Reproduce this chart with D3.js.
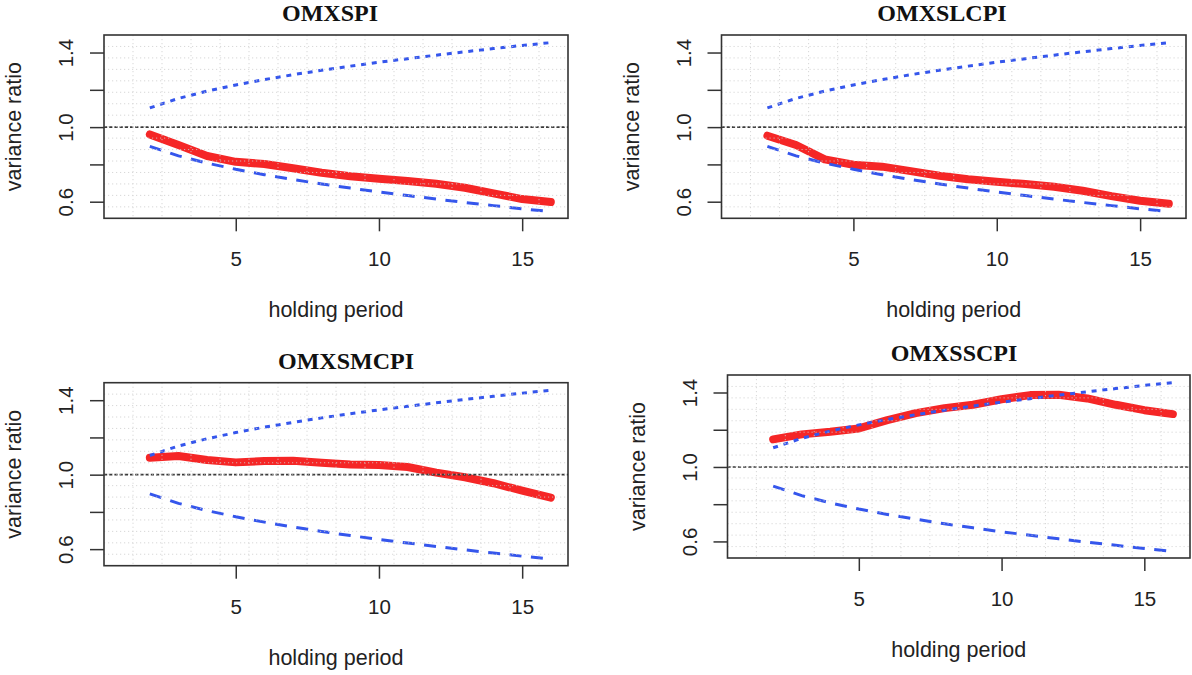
<!DOCTYPE html>
<html>
<head>
<meta charset="utf-8">
<title>Variance ratio by holding period</title>
<script src="https://cdn.jsdelivr.net/npm/d3@7"></script>
<style>
    body { margin: 0; background: #fff; }
    svg { display: block; }
    .panel-title { font-family: "Liberation Serif", "Times New Roman", serif; font-weight: bold; font-size: 24px; fill: #111; }
    .axis-label { font-family: "Liberation Sans", Arial, sans-serif; font-size: 21.5px; fill: #222; }
    .tick text { font-family: "Liberation Sans", Arial, sans-serif; font-size: 20.5px; fill: #222; }
    .tick line { stroke: #333; stroke-width: 1.5; }
</style>
</head>
<body>
<div id="chart"></div>
<script>
// ---- data ----
const holdingPeriods = [2, 3, 4, 5, 6, 7, 8, 9, 10, 11, 12, 13, 14, 15, 16];

// confidence band, same in every panel
const upperBound = [1.103, 1.154, 1.193, 1.226, 1.255, 1.281, 1.305, 1.327, 1.348, 1.367, 1.386, 1.404, 1.421, 1.438, 1.453];
const lowerBound = [0.897, 0.846, 0.807, 0.774, 0.745, 0.719, 0.695, 0.673, 0.652, 0.633, 0.614, 0.596, 0.579, 0.562, 0.547];

// variance ratio per index
const vrOMXSPI   = [0.961, 0.904, 0.845, 0.814, 0.802, 0.779, 0.755, 0.737, 0.723, 0.711, 0.696, 0.675, 0.645, 0.614, 0.598];
const vrOMXSLCPI = [0.954, 0.904, 0.827, 0.798, 0.788, 0.764, 0.739, 0.720, 0.707, 0.695, 0.680, 0.659, 0.630, 0.605, 0.589];
const vrOMXSMCPI = [1.091, 1.100, 1.079, 1.066, 1.073, 1.075, 1.064, 1.055, 1.052, 1.041, 1.011, 0.986, 0.954, 0.914, 0.877];
const vrOMXSSCPI = [1.148, 1.175, 1.189, 1.207, 1.252, 1.289, 1.316, 1.334, 1.364, 1.386, 1.388, 1.368, 1.334, 1.305, 1.284];

const panelTitles = ["OMXSPI", "OMXSLCPI", "OMXSMCPI", "OMXSSCPI"];
const panelSeries = [vrOMXSPI, vrOMXSLCPI, vrOMXSMCPI, vrOMXSSCPI];

const xTicks = [5, 10, 15];
const yTicks = [0.6, 0.8, 1.0, 1.2, 1.4];
const yTickLabels = ["0.6", "", "1.0", "", "1.4"];
const xLabel = "holding period";
const yLabel = "variance ratio";

// ---- layout ----
const width = 1192, height = 675;
const xDomain = [0.4, 16.6];
const yDomain = [0.511, 1.494];

const panelBoxes = [
    { left: 104,   right: 568,  top: 35,    bottom: 218.3, titleX: 330 },
    { left: 721.5, right: 1186, top: 35,    bottom: 218.3, titleX: 942 },
    { left: 104,   right: 568,  top: 382.7, bottom: 565.7, titleX: 346 },
    { left: 727.5, right: 1190, top: 375,   bottom: 558,   titleX: 954 }
];

const svg = d3.select('#chart')
    .append('svg')
    .attr('width', width)
    .attr('height', height);

/**
 * Draw one variance-ratio panel.
 */
function drawPanel(i) {
    const box = panelBoxes[i];
    const series = panelSeries[i];

    const x = d3.scaleLinear().domain(xDomain).range([box.left, box.right]);
    const y = d3.scaleLinear().domain(yDomain).range([box.bottom, box.top]);

    const g = svg.append('g').attr('class', 'panel');

    const line = d3.line()
        .x((d, k) => x(holdingPeriods[k]))
        .y(d => y(d));

    // variance ratio (thick red)
    g.append('path')
        .datum(series)
        .attr('d', line)
        .attr('fill', 'none')
        .attr('stroke', '#f52626')
        .attr('stroke-width', 8)
        .attr('stroke-linecap', 'round')
        .attr('stroke-linejoin', 'round');

    // upper band (dotted blue)
    g.append('path')
        .datum(upperBound)
        .attr('d', line)
        .attr('fill', 'none')
        .attr('stroke', '#3556ec')
        .attr('stroke-width', 3)
        .attr('stroke-dasharray', '5,5.8');

    // lower band (dashed blue)
    g.append('path')
        .datum(lowerBound)
        .attr('d', line)
        .attr('fill', 'none')
        .attr('stroke', '#3556ec')
        .attr('stroke-width', 3)
        .attr('stroke-dasharray', '12,9.5');

    // reference line at 1
    g.append('line')
        .attr('x1', box.left).attr('x2', box.right)
        .attr('y1', y(1)).attr('y2', y(1))
        .attr('stroke', '#3a3a3a')
        .attr('stroke-width', 1.6)
        .attr('stroke-dasharray', '3.2,2');

    // faint dotted grid, 16 x 16 cells, drawn over the lines like R's grid()
    const gw = (box.right - box.left) / 16;
    const gh = (box.bottom - box.top) / 16;
    const grid = g.append('g')
        .attr('stroke', '#cfcfcf')
        .attr('stroke-width', 1)
        .attr('stroke-dasharray', '1.2,2.8')
        .attr('opacity', 0.8);
    d3.range(1, 16).forEach(k => {
        grid.append('line')
            .attr('x1', box.left + k * gw).attr('x2', box.left + k * gw)
            .attr('y1', box.top).attr('y2', box.bottom);
        grid.append('line')
            .attr('x1', box.left).attr('x2', box.right)
            .attr('y1', box.top + k * gh).attr('y2', box.top + k * gh);
    });

    // plot box
    g.append('rect')
        .attr('x', box.left).attr('y', box.top)
        .attr('width', box.right - box.left)
        .attr('height', box.bottom - box.top)
        .attr('fill', 'none')
        .attr('stroke', '#333')
        .attr('stroke-width', 1.6);

    // x axis
    const xAxis = g.append('g')
        .attr('transform', `translate(0,${box.bottom})`)
        .call(d3.axisBottom(x).tickValues(xTicks).tickSize(13).tickFormat(d3.format('d')));
    xAxis.select('.domain').remove();
    xAxis.selectAll('.tick text')
        .attr('y', 48)
        .attr('dy', 0);

    // y axis, labels turned parallel to the axis
    const yAxis = g.append('g')
        .attr('transform', `translate(${box.left},0)`)
        .call(d3.axisLeft(y).tickValues(yTicks).tickSize(14)
            .tickFormat((d, k) => yTickLabels[k]));
    yAxis.select('.domain').remove();
    yAxis.selectAll('.tick text')
        .attr('x', 0)
        .attr('dy', 0)
        .attr('text-anchor', 'middle')
        .attr('transform', 'translate(-31,0) rotate(-90)');

    // titles
    g.append('text')
        .attr('class', 'panel-title')
        .attr('x', box.titleX)
        .attr('y', box.top - 14)
        .attr('text-anchor', 'middle')
        .text(panelTitles[i]);

    g.append('text')
        .attr('class', 'axis-label')
        .attr('x', (box.left + box.right) / 2)
        .attr('y', box.bottom + 99)
        .attr('text-anchor', 'middle')
        .text(xLabel);

    g.append('text')
        .attr('class', 'axis-label')
        .attr('text-anchor', 'middle')
        .attr('transform', `translate(${box.left - 83},${(box.top + box.bottom) / 2}) rotate(-90)`)
        .text(yLabel);
}

panelTitles.forEach((t, i) => drawPanel(i));
</script>
</body>
</html>
